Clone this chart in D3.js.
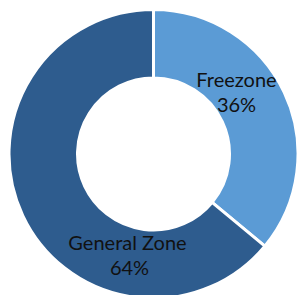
<!DOCTYPE html>
<html>
<head>
<meta charset="utf-8">
<script src="https://cdn.jsdelivr.net/npm/d3@7"></script>
<style>
  body { margin: 0; background: #fff; }
  svg { display: block; }
</style>
</head>
<body>
<svg id="donut" width="297" height="295"></svg>
<script>
// data
var categories = ["Freezone", "General Zone"];
var shares = [36, 64];
var colors = ["#5B9BD5", "#2E5C8E"];

var svg = d3.select("#donut"),
  width = +svg.attr("width"),
  height = +svg.attr("height"),
  cx = 153.5,
  cy = 154,
  outerRadius = 144.5,
  innerRadius = 76;

var pie = d3.pie()
  .sort(null)
  .value(function(d) { return d; });

var arc = d3.arc()
  .innerRadius(innerRadius)
  .outerRadius(outerRadius);

var g = svg.append("g")
  .attr("transform", "translate(" + cx + "," + cy + ")");

var arcs = pie(shares);

g.selectAll("path.slice")
  .data(arcs)
  .enter().append("path")
  .attr("class", "slice")
  .attr("d", arc)
  .style("fill", function(d, i) { return colors[i]; })
  .style("stroke", "#fff")
  .style("stroke-width", 3)
  .style("stroke-linejoin", "miter");

// label anchors, relative to the centre (moved by hand like in the original)
var labelOffset = [[83, -67], [-26, 96]];
var labels = g.selectAll("text.lbl")
  .data(arcs)
  .enter().append("text")
  .attr("class", "lbl")
  .attr("text-anchor", "middle")
  .style("font-family", "Lato, 'Open Sans', sans-serif")
  .style("font-size", "20px")
  .style("fill", "#111");

labels.append("tspan")
  .attr("x", function(d, i) { return labelOffset[i][0]; })
  .attr("y", function(d, i) { return labelOffset[i][1]; })
  .text(function(d, i) { return categories[i]; });

labels.append("tspan")
  .attr("x", function(d, i) { return labelOffset[i][0] + (i == 1 ? 2 : 0); })
  .attr("y", function(d, i) { return labelOffset[i][1] + 24.5; })
  .text(function(d) { return d.data + "%"; });
</script>
</body>
</html>
